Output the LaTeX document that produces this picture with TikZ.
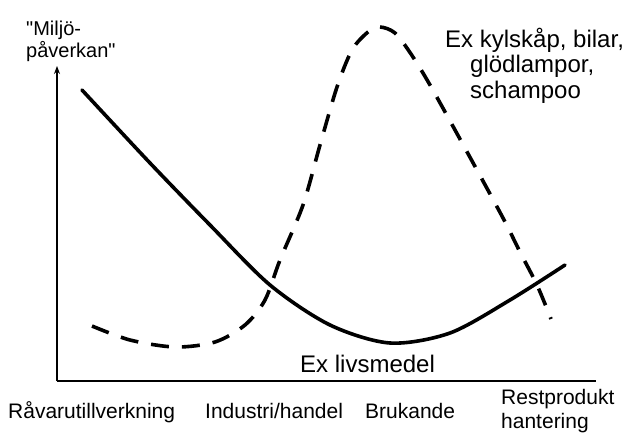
\documentclass[tikz,border=0pt]{standalone}
\usepackage{fontspec}
\setmainfont{Liberation Sans}[Ligatures=TeXOff]
\usepackage{tikz}
\usetikzlibrary{arrows.meta,positioning}

\begin{document}
\begin{tikzpicture}[
    x=1pt, y=-1pt,
    axisline/.style={draw=black, line width=1.3pt},
    fullcurve/.style={draw=black, line width=3.6pt, line cap=round},
    dashcurve/.style={draw=black, line width=3.6pt, dash pattern=on 18pt off 13pt},
    stagelabel/.style={inner sep=0pt, font=\fontsize{21}{24}\selectfont},
    examplelabel/.style={inner sep=0pt, font=\fontsize{24}{25.5}\selectfont},
    axislabel/.style={inner sep=0pt, font=\fontsize{20}{22}\selectfont},
]
\useasboundingbox (0,0) rectangle (631,434);

% axes
\coordinate (origin) at (57,381);
\coordinate (ytop) at (57,66);
\coordinate (xend) at (596,381);
\draw[axisline, -{Stealth[length=8pt,width=6pt]}] (origin) -- (ytop);
\draw[axisline] (origin) -- (xend);

% curves
\draw[fullcurve] plot[smooth] coordinates {
    (82,90) (150,163) (210,225) (270,285) (330,325) (390,343)
    (450,333) (510,300) (565,265)};
\draw[dashcurve] plot[smooth] coordinates {
    (92,326) (130,340) (175,347) (215,342) (245,325) (265,300)
    (280,260) (303,205) (320,145) (337,87) (352,50) (368,32)
    (380,27) (395,33) (411,54) (430,85) (466,150) (503,218)
    (520,252) (537,285) (551,319)};

% labels (base = last line)
\node[axislabel, anchor=base west, align=left] (miljo) at (26,57) {"Miljö-\\påverkan"};
\node[examplelabel, anchor=base west, align=left] (kylskap) at (445,98)
    {Ex kylskåp, bilar,\\\hspace*{25pt}glödlampor,\\\hspace*{25pt}schampoo};
\node[examplelabel, anchor=base west] (livsmedel) at (300,372) {Ex livsmedel};

\node[stagelabel, anchor=base west] (ravara) at (8,418) {Råvarutillverkning};
\node[stagelabel, anchor=base west] (industri) at (205,418) {Industri/handel};
\node[stagelabel, anchor=base west] (brukande) at (365,418) {Brukande};
\node[stagelabel, anchor=base west, align=left] (rest) at (501,428) {Restprodukt\\hantering};

\end{tikzpicture}
\end{document}
